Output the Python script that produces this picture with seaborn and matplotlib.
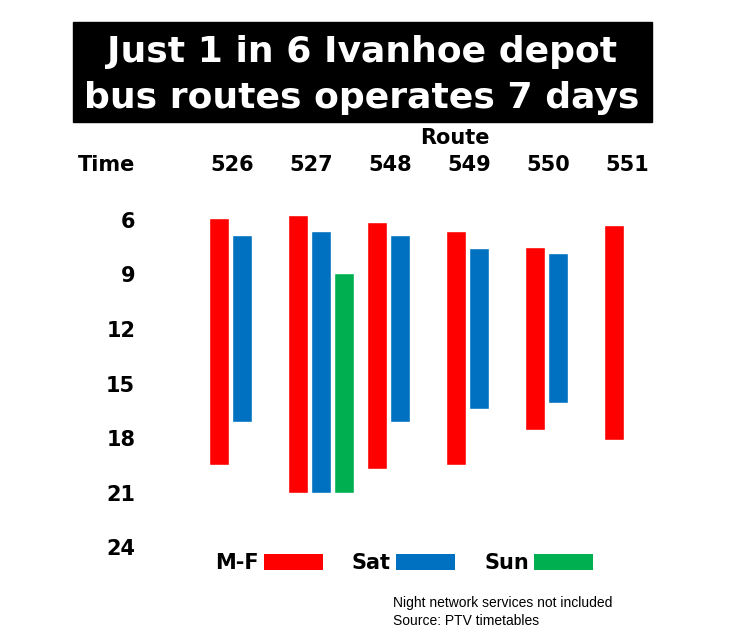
import pandas as pd
import numpy as np
import matplotlib.pyplot as plt
from matplotlib.patches import Patch, Rectangle
import seaborn as sns

sns.set_theme(style="white")
plt.rcParams['font.family'] = ['DejaVu Sans']
plt.rcParams['text.color'] = 'black'

# --- data (hour of day) ---
routes = ["526", "527", "548", "549", "550", "551"]
days = ["M-F", "Sat", "Sun"]
mf_start = [5.9, 5.75, 6.1, 6.6, 7.5, 6.3]
mf_end = [19.5, 21.05, 19.7, 19.5, 17.55, 18.1]
sat_start = [6.8, 6.6, 6.8, 7.55, 7.8, np.nan]
sat_end = [17.1, 21.05, 17.1, 16.4, 16.05, np.nan]
sun_start = [np.nan, 8.9, np.nan, np.nan, np.nan, np.nan]
sun_end = [np.nan, 21.05, np.nan, np.nan, np.nan, np.nan]
hour_ticks = [6, 9, 12, 15, 18, 21, 24]
colors = ["#FF0000", "#0070C0", "#00B050"]

frames = []
for day, s, e in zip(days, [mf_start, sat_start, sun_start], [mf_end, sat_end, sun_end]):
    frames.append(pd.DataFrame({"route": routes, "day": day, "start": s, "end": e}))
df = pd.concat(frames).dropna().reset_index(drop=True)
df["span"] = df["end"] - df["start"]

fig = plt.figure(figsize=(7.33, 6.44), dpi=100)
ax = fig.add_axes([170 / 733, 0.1506, 490 / 733, 0.536])

sns.barplot(data=df, x="route", y="span", hue="day", order=routes, hue_order=days,
            palette=colors, width=0.87, gap=0.15, errorbar=None, legend=False,
            saturation=1, ax=ax)

# turn the bars into floating bars: move each bar to start at its start hour
for container, day in zip(ax.containers, days):
    sub = df[df["day"] == day].set_index("route").reindex(routes).dropna()
    for bar, start in zip(container, sub["start"]):
        bar.set_y(start)

ax.set_ylim(24, 5)
ax.set_xlim(-0.912, 5.29)
ax.set_yticks(hour_ticks)
ax.set_yticklabels([str(h) for h in hour_ticks], fontsize=15, fontweight="bold")
ax.xaxis.tick_top()
ax.set_xticks(np.arange(len(routes)) - 0.13)
ax.set_xticklabels(routes, fontsize=15, fontweight="bold")
ax.tick_params(axis="both", length=0, colors="black")
ax.tick_params(axis="x", pad=19)
ax.tick_params(axis="y", pad=25)
ax.set_xlabel("")
ax.set_ylabel("")
sns.despine(ax=ax, left=True, bottom=True)

# title box
fig.add_artist(Rectangle((72.7 / 733, 1 - 121.7 / 644), 579 / 733, 99.7 / 644,
                         transform=fig.transFigure, color="black"))
fig.text(362 / 733, 1 - 62 / 644, "Just 1 in 6 Ivanhoe depot", color="white",
         fontsize=26, fontweight="bold", ha="center", va="baseline")
fig.text(362 / 733, 1 - 108 / 644, "bus routes operates 7 days", color="white",
         fontsize=26, fontweight="bold", ha="center", va="baseline")

fig.text(455 / 733, 1 - 138 / 644, "Route", fontsize=15, fontweight="bold",
         ha="center", va="center")
fig.text(135 / 733, 1 - 165 / 644, "Time", fontsize=15, fontweight="bold",
         ha="right", va="center")

handles = [Patch(facecolor=c, edgecolor="none") for c in colors]
fig.legend(handles, days, loc="center", bbox_to_anchor=(404 / 733, 1 - 563 / 644),
           ncol=3, frameon=False, markerfirst=False, handlelength=2.83,
           handleheight=0.82, handletextpad=0.24, columnspacing=1.4,
           prop=dict(weight="bold", size=15))

fig.text(393 / 733, 1 - 603 / 644, "Night network services not included",
         fontsize=10, ha="left", va="center", family="Liberation Sans")
fig.text(393 / 733, 1 - 621 / 644, "Source: PTV timetables",
         fontsize=10, ha="left", va="center", family="Liberation Sans")

fig.savefig("out.png", dpi=100)
